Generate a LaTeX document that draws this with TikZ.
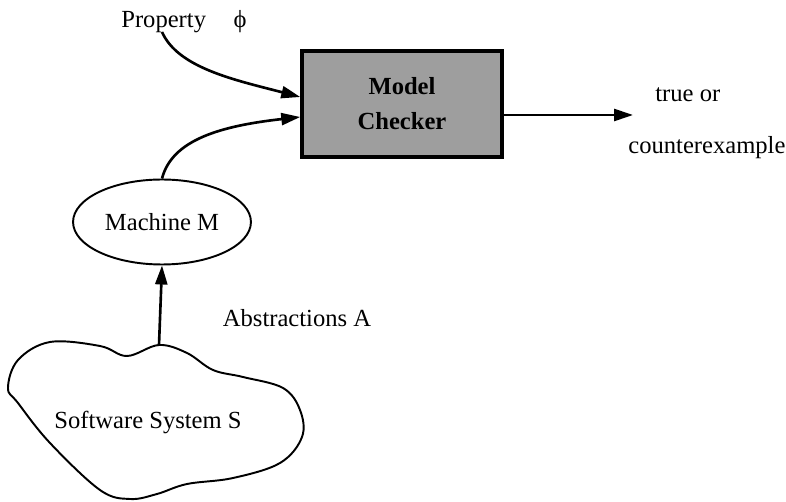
\documentclass[tikz,border=0pt]{standalone}
\usepackage{fontspec}
\setmainfont{Liberation Serif}
\usetikzlibrary{arrows.meta}
\usetikzlibrary{shapes.geometric}

\begin{document}
\begin{tikzpicture}[x=0.02cm, y=-0.02cm, >={Triangle[length=3.8mm,width=2.4mm]},
  every node/.style={font=\fontsize{14}{20}\selectfont},
  lbl/.style={inner sep=0pt, anchor=west},
  conn/.style={line width=1.5pt},
  checker/.style={draw, line width=2pt, fill=black!38, minimum width=4cm,
    minimum height=2.12cm, align=center, font=\fontsize{14}{20}\selectfont\bfseries},
  machine/.style={draw, ellipse, line width=1.1pt, minimum width=3.4cm, minimum height=1.7cm}]
\useasboundingbox (0,0) rectangle (786,502);

% the inputs
\node[lbl] (prop) at (121,22) {Property\hspace{0.55cm}ϕ};
\node[checker] (mc) at (402,104) {Model\\Checker};
\node[machine] (mach) at (162,222) {Machine M};
\node (abs) at (297,318) {Abstractions A};

% the software system
\draw[line width=1.1pt] plot[smooth cycle, tension=0.6] coordinates {
  (159,345) (127,356) (100,346) (50,342) (18,360) (8,388) (18,403)
  (50,443) (100,490) (130,499) (157,494) (187,484) (233,478) (280,463)
  (302,437) (300,410) (283,388) (243,377) (213,370) (187,353)};
\coordinate (swtop) at (159,345);
\node (sw) at (148,422) {Software System S};

% outputs
\coordinate (out) at (633,115);
\node[lbl] (res1) at (655,95) {true or};
\node[lbl] (res2) at (628,148) {counterexample};

% connectors
\draw[conn,->] (162,32) .. controls (178,68) and (235,80) .. (mc.west |- 0,97);
\draw[conn,->] (mach.north) .. controls (172,140) and (220,126) .. (mc.west |- 0,117);
\draw[conn,->] (swtop) -- (mach.south);
\draw[conn,->] (mc.east |- out) -- (out);
\end{tikzpicture}
\end{document}
